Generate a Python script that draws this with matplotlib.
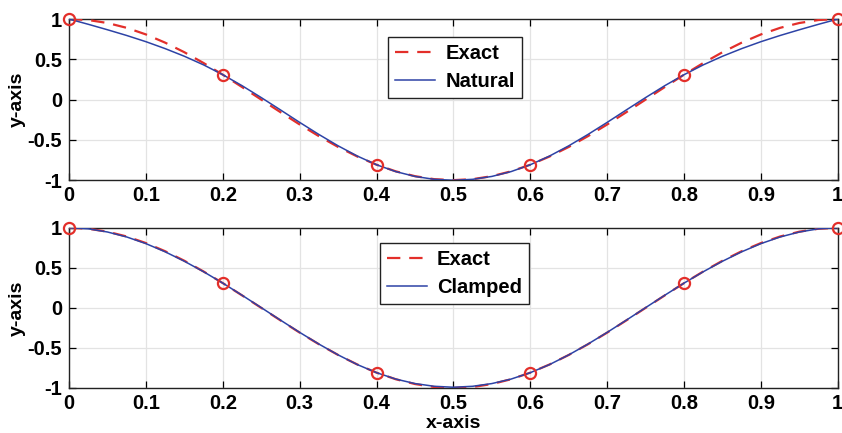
import matplotlib
matplotlib.use("Agg")
from matplotlib import pyplot as plt
import numpy as np

plt.rcParams['font.family'] = ['Liberation Sans', 'DejaVu Sans']
plt.rcParams['font.weight'] = 'bold'
plt.rcParams['font.size'] = 14

# curve samples, x from 0 to 1 in steps of 0.025
x = np.linspace(0, 1, 41)
exact = [1.000, 0.988, 0.951, 0.891, 0.809, 0.707, 0.588, 0.454, 0.309, 0.156,
         0.000, -0.156, -0.309, -0.454, -0.588, -0.707, -0.809, -0.891, -0.951, -0.988,
         -1.000, -0.988, -0.951, -0.891, -0.809, -0.707, -0.588, -0.454, -0.309, -0.156,
         0.000, 0.156, 0.309, 0.454, 0.588, 0.707, 0.809, 0.891, 0.951, 0.988, 1.000]
natural = [1.000, 0.935, 0.867, 0.796, 0.719, 0.633, 0.538, 0.431, 0.309, 0.173,
           0.025, -0.128, -0.283, -0.433, -0.574, -0.701, -0.809, -0.894, -0.954, -0.990,
           -1.002, -0.990, -0.954, -0.894, -0.809, -0.701, -0.574, -0.433, -0.283, -0.128,
           0.025, 0.173, 0.309, 0.431, 0.538, 0.633, 0.719, 0.796, 0.867, 0.935, 1.000]
clamped = [1.000, 0.987, 0.947, 0.885, 0.802, 0.700, 0.582, 0.451, 0.309, 0.158,
           0.003, -0.153, -0.306, -0.452, -0.587, -0.708, -0.809, -0.889, -0.945, -0.979,
           -0.991, -0.979, -0.945, -0.889, -0.809, -0.708, -0.587, -0.452, -0.306, -0.153,
           0.003, 0.158, 0.309, 0.451, 0.582, 0.700, 0.802, 0.885, 0.947, 0.987, 1.000]

# interpolation nodes
xn = [0, 0.2, 0.4, 0.6, 0.8, 1.0]
yn = [1.0, 0.309, -0.809, -0.809, 0.309, 1.0]

red = '#e32f2a'
blue = '#2d43a6'

fig = plt.figure(figsize=(8.42, 4.33), dpi=100)
ax1 = fig.add_axes([0.082, 0.584, 0.913, 0.372])
ax2 = fig.add_axes([0.082, 0.104, 0.913, 0.370])

for ax, spline, name, anchor in [(ax1, natural, 'Natural', (0.415, 0.888)),
                                 (ax2, clamped, 'Clamped', (0.404, 0.906))]:
    ax.plot(x, exact, color=red, lw=1.6, dashes=(6, 4), label='Exact', zorder=3)
    ax.plot(x, spline, color=blue, lw=1.1, label=name, zorder=4)
    ax.plot(xn, yn, 'o', mfc='none', mec=red, mew=1.6, ms=8, zorder=5, clip_on=False)
    ax.set_xlim(0, 1)
    ax.set_ylim(-1, 1)
    ax.set_xticks(np.arange(0, 1.01, 0.1))
    ax.set_xticklabels(['0', '0.1', '0.2', '0.3', '0.4', '0.5', '0.6', '0.7', '0.8', '0.9', '1'])
    ax.set_yticks([-1, -0.5, 0, 0.5, 1])
    ax.set_yticklabels(['-1', '-0.5', '0', '0.5', '1'])
    ax.grid(True, color='#e3e3e3', lw=0.9)
    ax.set_axisbelow(True)
    ax.tick_params(direction='in', top=True, right=True, length=5, width=0.9, labelsize=14.5)
    ax.tick_params(axis='x', pad=4)
    ax.tick_params(axis='y', pad=5)
    for s in ax.spines.values():
        s.set_linewidth(1.0)
        s.set_color('#222222')
    ax.set_ylabel('y-axis', fontsize=14, fontweight='bold', labelpad=1)
    leg = ax.legend(loc='upper left', bbox_to_anchor=anchor, borderaxespad=0,
                    fancybox=False, edgecolor='#222222', framealpha=1,
                    handlelength=2.0, handletextpad=0.5, borderpad=0.35,
                    labelspacing=0.45, prop={'weight': 'bold', 'size': 14.5})
    leg.get_frame().set_linewidth(1.0)

ax2.set_xlabel('x-axis', fontsize=14, fontweight='bold', labelpad=2)

fig.savefig('out.png', dpi=100)
